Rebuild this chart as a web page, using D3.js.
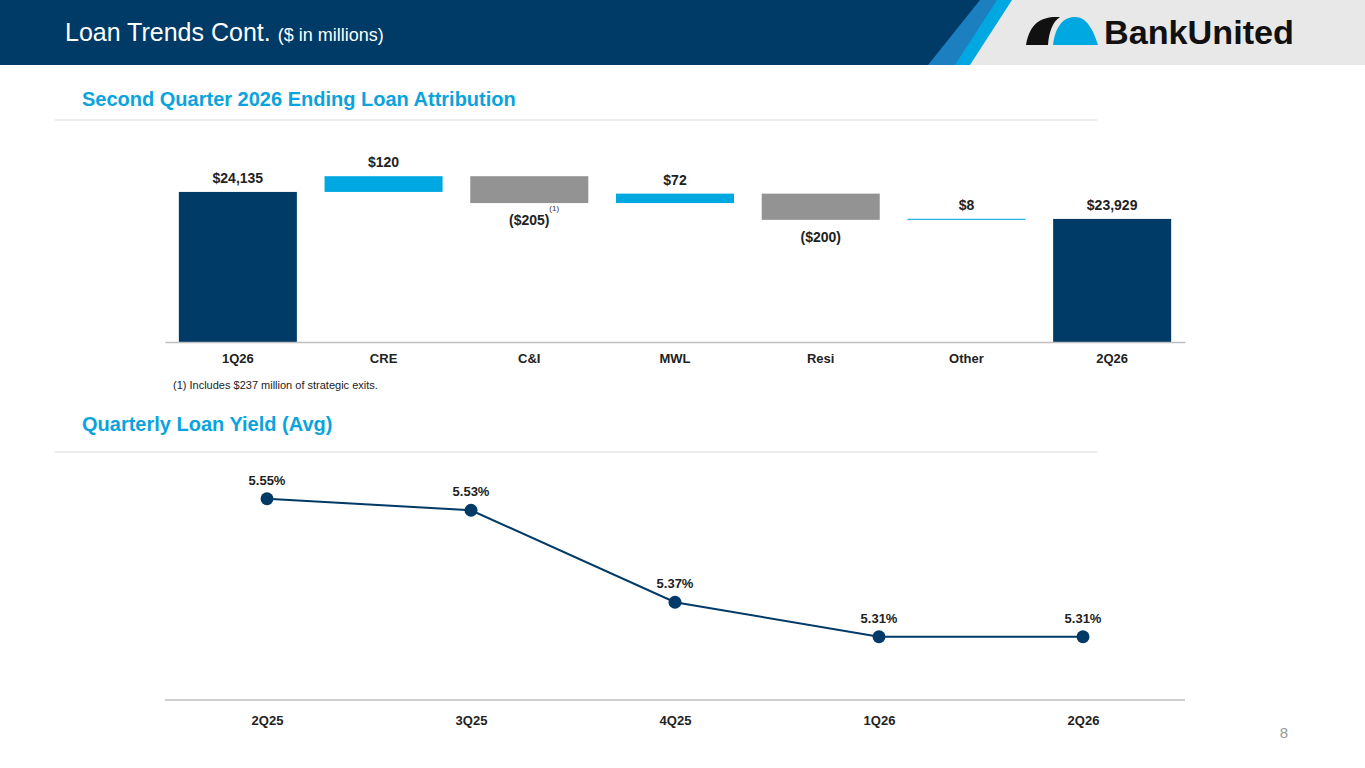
<!DOCTYPE html>
<html><head><meta charset="utf-8">
<script src="https://cdn.jsdelivr.net/npm/d3@7"></script>
<style>body{margin:0;background:#fff;font-family:Arial,"Liberation Sans",sans-serif}</style>
</head><body><svg id="c" width="1365" height="768"></svg>
<script>
// waterfall data
const wfCats = ["1Q26","CRE","C&I","MWL","Resi","Other","2Q26"];
const wfVals = [24135, 120, -205, 72, -200, 8, 23929];
const wfLabels = ["$24,135","$120","($205)","$72","($200)","$8","$23,929"];
// yield data
const qtrs = ["2Q25","3Q25","4Q25","1Q26","2Q26"];
const yields = [5.55, 5.53, 5.37, 5.31, 5.31];

const navy = "#003a66", cyan = "#00a8e1", grey = "#939393";
const svg = d3.select("#c");

// header
svg.append("rect").attr("width",1365).attr("height",65).attr("fill","#e8e8e8");
svg.append("path").attr("d","M0,0H1012L970,65H0Z").attr("fill","#00a8e1");
svg.append("path").attr("d","M0,0H997L955,65H0Z").attr("fill","#1c7fc0");
svg.append("path").attr("d","M0,0H980L928,65H0Z").attr("fill",navy);
svg.append("text").attr("x",65).attr("y",41).attr("fill","#fff").attr("font-size",25)
  .text("Loan Trends Cont. ").append("tspan").attr("font-size",18).text("($ in millions)");
// logo
svg.append("path").attr("d","M1026,45 C1030,22 1042,16 1060,17 C1052,22 1049,33 1048,45Z").attr("fill","#111");
svg.append("path").attr("d","M1053,45 C1055,27 1063,17 1075,17 C1087,17 1093,30 1098,45Z").attr("fill",cyan);
svg.append("text").attr("x",1104).attr("y",44).attr("font-size",34).attr("font-weight","bold")
  .attr("fill","#111").attr("textLength",190).attr("lengthAdjust","spacingAndGlyphs").text("BankUnited");

// section titles
function section(y, t, ly){
  svg.append("text").attr("x",82).attr("y",y).attr("fill","#0aa3dd").attr("font-size",20)
    .attr("font-weight","bold").text(t);
  svg.append("line").attr("x1",55).attr("x2",1097).attr("y1",ly).attr("y2",ly).attr("stroke","#d9d9d9");
}
section(106,"Second Quarter 2026 Ending Loan Attribution",120);
section(431,"Quarterly Loan Yield (Avg)",452);

// waterfall
const x1 = d3.scaleBand().domain(wfCats).range([165,1185]).paddingInner(0.19).paddingOuter(0.095);
const y1 = d3.scaleLinear().domain([22990,24300]).range([342,170.3]);
let run = 0;
const bars = wfVals.map((v,i)=>{
  if(i===0||i===wfVals.length-1){ run=v; return {lo:y1.domain()[0],hi:v,type:"total",v}; }
  const s=run; run+=v; return {lo:Math.min(s,run),hi:Math.max(s,run),type:v>=0?"up":"down",v};
});
svg.append("g").selectAll("rect").data(bars).join("rect")
  .attr("x",(d,i)=>x1(wfCats[i])).attr("width",x1.bandwidth())
  .attr("y",d=>y1(d.hi)).attr("height",d=>Math.max(1,y1(d.lo)-y1(d.hi)))
  .attr("fill",d=>d.type==="total"?navy:d.type==="up"?cyan:grey);
svg.append("g").selectAll("text").data(bars).join("text")
  .attr("x",(d,i)=>x1(wfCats[i])+x1.bandwidth()/2)
  .attr("y",d=>d.type==="down"?y1(d.lo)+22:y1(d.hi)-9)
  .attr("text-anchor","middle").attr("font-size",14).attr("font-weight","bold").attr("fill","#222")
  .text((d,i)=>wfLabels[i]);
svg.append("text").attr("x",x1("C&I")+x1.bandwidth()/2+20).attr("y",211).attr("font-size",8).attr("fill","#333").text("(1)");
const ax1 = svg.append("g").attr("transform","translate(0,342)")
  .call(d3.axisBottom(x1).tickSize(0).tickPadding(12));
ax1.select(".domain").attr("stroke","#bfbfbf").attr("stroke-width",1.5);
ax1.selectAll("text").attr("font-size",13).attr("font-weight","bold").attr("fill","#222").attr("font-family","Arial");
svg.append("text").attr("x",173).attr("y",389).attr("font-size",11).attr("fill","#222")
  .text("(1) Includes $237 million of strategic exits.");

// line chart
const x2 = d3.scalePoint().domain(qtrs).range([267,1083]);
const y2 = d3.scaleLinear().domain([5.2,5.6]).range([700,470]);
svg.append("path").datum(yields).attr("fill","none").attr("stroke",navy).attr("stroke-width",2)
  .attr("d",d3.line().x((d,i)=>x2(qtrs[i])).y(d=>y2(d)));
svg.append("g").selectAll("circle").data(yields).join("circle")
  .attr("cx",(d,i)=>x2(qtrs[i])).attr("cy",d=>y2(d)).attr("r",6.5).attr("fill",navy);
svg.append("g").selectAll("text").data(yields).join("text")
  .attr("x",(d,i)=>x2(qtrs[i])).attr("y",d=>y2(d)-14).attr("text-anchor","middle")
  .attr("font-size",13).attr("font-weight","bold").attr("fill","#222").text(d=>d.toFixed(2)+"%");
const ax2 = svg.append("g").attr("transform","translate(0,700)")
  .call(d3.axisBottom(x2).tickSize(0).tickPadding(16));
ax2.select(".domain").attr("d","M165,0H1185").attr("stroke","#bfbfbf").attr("stroke-width",1.5);
ax2.selectAll("text").attr("font-size",13).attr("font-weight","bold").attr("fill","#222").attr("font-family","Arial");

svg.append("text").attr("x",1288).attr("y",738).attr("text-anchor","end").attr("font-size",15).attr("fill","#999").text("8");
</script></body></html>
